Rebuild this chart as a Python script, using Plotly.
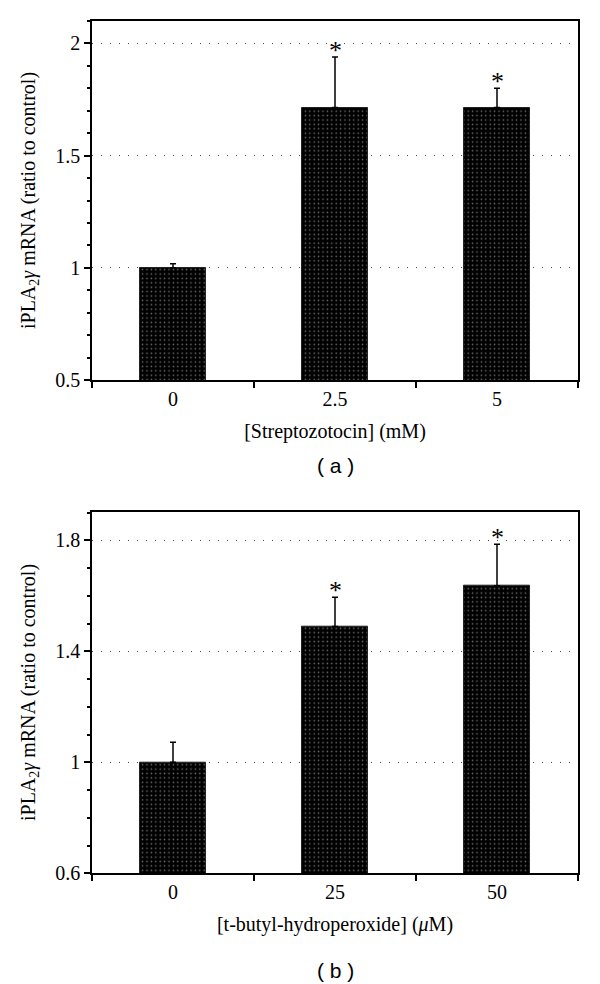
import plotly.graph_objects as go

# Panel (a)
cats_a = ["0", "2.5", "5"]
vals_a = [1.0, 1.714, 1.714]
err_a = [0.018, 0.226, 0.086]
star_a = ["", "*", "*"]

# Panel (b)
cats_b = ["0", "25", "50"]
vals_b = [1.0, 1.489, 1.636]
err_b = [0.072, 0.106, 0.150]
star_b = ["", "*", "*"]

SERIF = "Liberation Serif"
SANS = "Liberation Sans"
FS = 20

W, H = 592, 976  # page body has an 8px default margin

fig = go.Figure()
annots = []

def add_panel(cats, vals, errs, stars, xa, ya):
    fig.add_trace(go.Bar(
        x=cats, y=vals, width=0.41,
        marker=dict(color="black", line=dict(color="#222", width=1),
                    pattern=dict(shape=".", bgcolor="black", fgcolor="#e0e0e0",
                                 size=4.4, solidity=0.1)),
        error_y=dict(type="data", array=errs, arrayminus=[0]*len(errs),
                     symmetric=False, color="black", thickness=1.5, width=3),
        xaxis=xa, yaxis=ya, showlegend=False))
    for i, (v, e, s) in enumerate(zip(vals, errs, stars)):
        if s:
            # category axes: annotation x given as the category's index
            annots.append(dict(text=s, x=i, y=v + e, xref=xa, yref=ya,
                               xanchor="center", yanchor="bottom", yshift=-10,
                               showarrow=False,
                               font=dict(family=SERIF, size=26, color="black")))

add_panel(cats_a, vals_a, err_a, star_a, "x", "y")
add_panel(cats_b, vals_b, err_b, star_b, "x2", "y2")

xdom = [84/W, 570/W]
common_x = dict(type="category", tickson="boundaries", ticks="outside", ticklen=6,
                tickwidth=1.5, tickcolor="black", showline=True, linecolor="black",
                linewidth=1.5, mirror=True, showgrid=False, range=[-0.5, 2.5],
                tickfont=dict(family=SERIF, size=FS, color="black"),
                domain=xdom, automargin=False)
common_y = dict(ticks="outside", ticklen=6, tickwidth=1.5, tickcolor="black",
                showline=True, linecolor="black", linewidth=1.5, mirror=True,
                showgrid=True, gridcolor="#444444", griddash="1px,8px", gridwidth=1,
                zeroline=False,
                tickfont=dict(family=SERIF, size=FS, color="black"),
                automargin=False)

ytitle = "iPLA<sub>2</sub><i>γ</i> mRNA (ratio to control)"

annots += [
    dict(text="( a )", x=327/W, y=1-458/H, xref="paper", yref="paper",
         xanchor="center", yanchor="middle",
         showarrow=False, font=dict(family=SANS, size=21, color="black")),
    dict(text="( b )", x=327/W, y=1-962/H, xref="paper", yref="paper",
         xanchor="center", yanchor="middle",
         showarrow=False, font=dict(family=SANS, size=21, color="black")),
]

fig.update_layout(
    width=W, height=H, margin=dict(l=0, r=0, t=0, b=0),
    plot_bgcolor="white", paper_bgcolor="white", bargap=0,
    xaxis=dict(common_x, anchor="y",
               title=dict(text="[Streptozotocin] (mM)", standoff=15,
                          font=dict(family=SERIF, size=FS, color="black"))),
    yaxis=dict(common_y, anchor="x", domain=[1-372/H, 1-13/H], range=[0.5, 2.1],
               tick0=0.5, dtick=0.5,
               minor=dict(dtick=0.1, tick0=0.5, ticks="outside", ticklen=3,
                          tickwidth=1.5, tickcolor="black", showgrid=False),
               title=dict(text=ytitle, standoff=14,
                          font=dict(family=SERIF, size=FS, color="black"))),
    xaxis2=dict(common_x, anchor="y2",
                title=dict(text="[t-butyl-hydroperoxide] (<i>μ</i>M)", standoff=15,
                           font=dict(family=SERIF, size=FS, color="black"))),
    yaxis2=dict(common_y, anchor="x2", domain=[1-865.3/H, 1-503.7/H], range=[0.6, 1.903],
                tick0=0.6, dtick=0.4,
                minor=dict(dtick=0.1, tick0=0.6, ticks="outside", ticklen=3,
                           tickwidth=1.5, tickcolor="black", showgrid=False),
                title=dict(text=ytitle, standoff=14,
                           font=dict(family=SERIF, size=FS, color="black"))),
    annotations=annots,
)

fig.write_html("out.html")
